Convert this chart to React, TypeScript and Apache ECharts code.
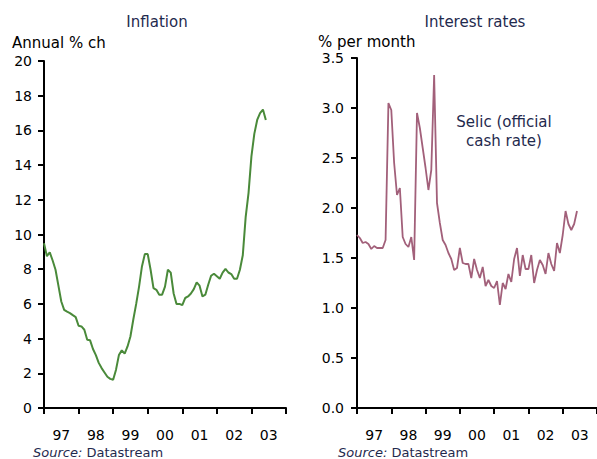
import React, { useEffect, useRef } from "react";
import * as echarts from "echarts";

const YEAR_LABELS = ["97", "98", "99", "00", "01", "02", "03"];

// Monthly, Jan 1997 .. Jun 2003
const INFLATION = [
  9.5, 8.75, 8.97, 8.5, 7.97, 7.05, 6.14, 5.66, 5.55, 5.47, 5.35, 5.24,
  4.74, 4.7, 4.51, 3.93, 3.9, 3.4, 3.05, 2.6, 2.3, 2.05, 1.8, 1.68,
  1.63, 2.21, 3.05, 3.32, 3.13, 3.55, 4.12, 5.1, 6.0, 7.0, 8.16, 8.87,
  8.87, 7.97, 6.91, 6.81, 6.53, 6.53, 7.0, 7.97, 7.8, 6.6, 6.0, 6.0,
  5.93, 6.34, 6.43, 6.6, 6.85, 7.24, 7.05, 6.43, 6.53, 7.1, 7.62, 7.74,
  7.6, 7.45, 7.8, 8.02, 7.81, 7.72, 7.45, 7.45, 7.97, 8.8, 11.0, 12.4,
  14.5, 15.8, 16.6, 17.0, 17.2, 16.6,
];

const SELIC = [
  1.73, 1.7, 1.65, 1.66, 1.64, 1.59, 1.62, 1.6, 1.6, 1.6, 1.68, 3.05,
  2.98, 2.45, 2.13, 2.2, 1.71, 1.64, 1.61, 1.71, 1.48, 2.95, 2.8, 2.6,
  2.4, 2.18, 2.38, 3.33, 2.05, 1.85, 1.68, 1.63, 1.55, 1.49, 1.38, 1.4,
  1.6, 1.45, 1.44, 1.44, 1.3, 1.49, 1.38, 1.3, 1.41, 1.22, 1.28, 1.22,
  1.2, 1.27, 1.03, 1.25, 1.19, 1.34, 1.26, 1.49, 1.6, 1.32, 1.53, 1.39,
  1.39, 1.53, 1.25, 1.38, 1.48, 1.43, 1.34, 1.55, 1.44, 1.37, 1.65, 1.55,
  1.73, 1.97, 1.84, 1.78, 1.84, 1.97,
];

const FONT = "DejaVu Sans";
const NAVY = "#1f2a4e";
const GREEN = "#4a8a3a";
const MAROON = "#a2607a";

export default function App() {
  const ref = useRef<HTMLDivElement>(null);
  useEffect(() => {
    if (!ref.current) return;
    const chart = echarts.init(ref.current, undefined, { renderer: "svg" });
    const axisLine = { show: true, lineStyle: { color: "#000", width: 2 } };
    const tick = { show: true, length: 6, lineStyle: { color: "#000", width: 2 } };
    const valX = (gridIndex: number) => ({
      type: "value",
      gridIndex,
      min: 0,
      max: 84,
      interval: 12,
      axisLine,
      axisTick: tick,
      axisLabel: { show: false },
      splitLine: { show: false },
    });
    const catX = (gridIndex: number) => ({
      type: "category",
      gridIndex,
      data: YEAR_LABELS,
      boundaryGap: true,
      position: "bottom",
      axisLine: { show: false },
      axisTick: { show: false },
      axisLabel: { color: "#000", fontFamily: FONT, fontSize: 14, margin: 20 },
      splitLine: { show: false },
    });
    const source = (x: number) => ({
      type: "text", x, y: 452,
      style: {
        text: "{i|Source:} Datastream",
        fill: NAVY, font: `13px '${FONT}'`, textVerticalAlign: "middle",
        rich: { i: { fontStyle: "italic", fontFamily: FONT, fontSize: 13, fill: NAVY } },
      },
    });
    chart.setOption({
      animation: false,
      backgroundColor: "#fff",
      grid: [
        { left: 44, right: 311, top: 61, bottom: 51 },
        { left: 357, right: -7, top: 58, bottom: 51 },
      ],
      xAxis: [valX(0), catX(0), valX(1), catX(1)],
      yAxis: [
        {
          type: "value",
          gridIndex: 0,
          min: 0,
          max: 20,
          interval: 2,
          axisLine,
          axisTick: tick,
          splitLine: { show: false },
          axisLabel: { color: "#000", fontFamily: FONT, fontSize: 14, margin: 12 },
        },
        {
          type: "value",
          gridIndex: 1,
          min: 0,
          max: 3.5,
          interval: 0.5,
          axisLine,
          axisTick: tick,
          splitLine: { show: false },
          axisLabel: {
            color: "#000",
            fontFamily: FONT,
            fontSize: 14,
            margin: 13,
            formatter: (v: number) => v.toFixed(1),
          },
        },
      ],
      series: [
        {
          type: "line",
          xAxisIndex: 0,
          yAxisIndex: 0,
          data: INFLATION.map((v, i) => [i, v]),
          showSymbol: false,
          lineStyle: { color: GREEN, width: 2 },
        },
        {
          type: "line",
          xAxisIndex: 2,
          yAxisIndex: 1,
          data: SELIC.map((v, i) => [i, v]),
          showSymbol: false,
          lineStyle: { color: MAROON, width: 1.8 },
        },
      ],
      graphic: [
        { type: "text", x: 157, y: 22, style: { text: "Inflation", fill: NAVY, font: `15px '${FONT}'`, textAlign: "center", textVerticalAlign: "middle" } },
        { type: "text", x: 475, y: 22, style: { text: "Interest rates", fill: NAVY, font: `15px '${FONT}'`, textAlign: "center", textVerticalAlign: "middle" } },
        { type: "text", x: 12, y: 43, style: { text: "Annual % ch", fill: "#000", font: `15px '${FONT}'`, textAlign: "left", textVerticalAlign: "middle" } },
        { type: "text", x: 318, y: 42, style: { text: "% per month", fill: "#000", font: `15px '${FONT}'`, textAlign: "left", textVerticalAlign: "middle" } },
        { type: "text", x: 504, y: 122, style: { text: "Selic (official", fill: NAVY, font: `15px '${FONT}'`, textAlign: "center", textVerticalAlign: "middle" } },
        { type: "text", x: 504, y: 141, style: { text: "cash rate)", fill: NAVY, font: `15px '${FONT}'`, textAlign: "center", textVerticalAlign: "middle" } },
        source(33),
        source(338),
      ],
    });
    return () => chart.dispose();
  }, []);
  return (
    <div
      ref={ref}
      style={{ position: "absolute", left: 0, top: 0, width: 597, height: 459, overflow: "hidden" }}
    />
  );
}
